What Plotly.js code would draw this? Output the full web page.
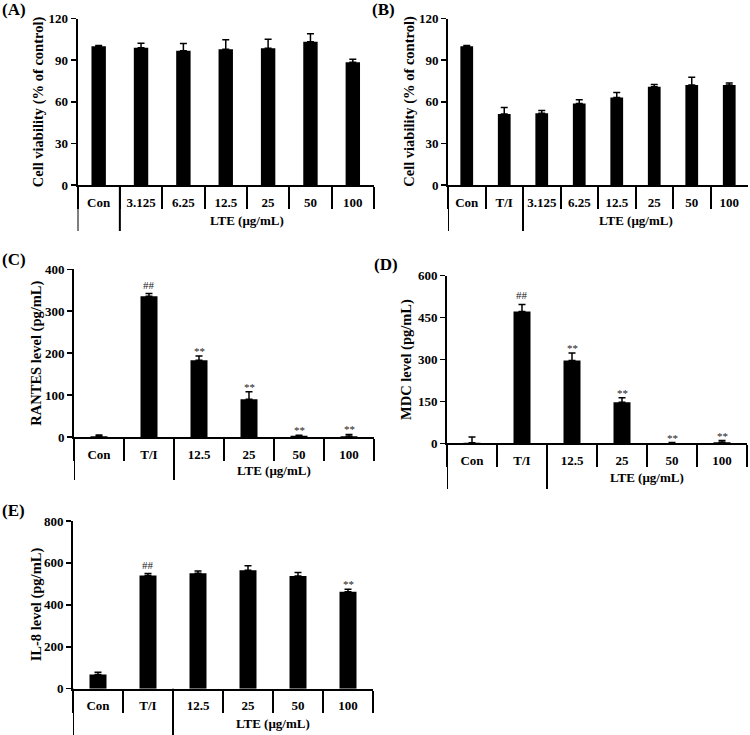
<!DOCTYPE html>
<html>
<head>
<meta charset="utf-8">
<script src="https://cdn.plot.ly/plotly-3.0.1.min.js"></script>
<style>
  html, body { margin: 0; padding: 0; background: #fff; }
  #chart { width: 750px; height: 735px; }
</style>
</head>
<body>
<div id="chart"></div>
<script>
// (A) cell viability with LTE alone
const catsA = ['Con', '3.125', '6.25', '12.5', '25', '50', '100'];
const valsA = [100, 99, 96.8, 97.8, 98.5, 103.2, 88.5];
const errsA = [0.6, 3.2, 5.1, 6.8, 6.6, 5.8, 2.2];

// (B) cell viability with T/I stimulation
const catsB = ['Con', 'T/I', '3.125', '6.25', '12.5', '25', '50', '100'];
const valsB = [100, 51.1, 51.8, 58.8, 63.1, 70.8, 72, 72];
const errsB = [0.5, 4.8, 1.9, 2.6, 3.6, 1.7, 5.6, 1.6];

// (C)-(E) cytokine levels
const catsCDE = ['Con', 'T/I', '12.5', '25', '50', '100'];

const valsC = [2, 336, 183, 90, 3, 2];
const errsC = [3, 6, 10, 18, 1, 4];
const sigC = ['', '##', '**', '**', '**', '**'];

const valsD = [2, 472, 296, 147, 1.5, 4];
const errsD = [21, 25, 27, 16, 1, 6];
const sigD = ['', '##', '**', '**', '**', '**'];

const valsE = [68, 540, 551, 565, 538, 463];
const errsE = [10, 9, 11, 21, 16, 12];
const sigE = ['', '##', '', '', '', '**'];

const groupLabel = 'LTE (μg/mL)';

// ---- page geometry (pixels) ----
const W = 750, H = 735;
const fx = v => v / W;
const fy = v => 1 - v / H;
const SERIF = 'Liberation Serif, Times New Roman, serif';

const panels = [
  { tag: '(A)', cats: catsA, vals: valsA, errs: errsA, sig: null,
    ymax: 120, dtick: 30, title: 'Cell viability (% of control)',
    box: [77.5, 374, 18.5, 185], groupStart: 1, lteY: 221, groupBottom: 231,
    titleX: 38.5, tagXY: [0, 9] },
  { tag: '(B)', cats: catsB, vals: valsB, errs: errsB, sig: null,
    ymax: 120, dtick: 30, title: 'Cell viability (% of control)',
    box: [448, 748, 18.5, 185], groupStart: 2, lteY: 221, groupBottom: 231,
    titleX: 410, tagXY: [370, 9] },
  { tag: '(C)', cats: catsCDE, vals: valsC, errs: errsC, sig: sigC,
    ymax: 400, dtick: 100, title: 'RANTES level (pg/mL)',
    box: [74, 374, 269.3, 437], groupStart: 2, lteY: 470, groupBottom: 480,
    titleX: 36.5, tagXY: [0, 259] },
  { tag: '(D)', cats: catsCDE, vals: valsD, errs: errsD, sig: sigD,
    ymax: 600, dtick: 150, title: 'MDC level (pg/mL)',
    box: [447, 747, 275.7, 443.3], groupStart: 2, lteY: 477, groupBottom: 489,
    titleX: 406.5, tagXY: [372, 264] },
  { tag: '(E)', cats: catsCDE, vals: valsE, errs: errsE, sig: sigE,
    ymax: 800, dtick: 200, title: 'IL-8 level (pg/mL)',
    box: [73, 373, 521, 688.7], groupStart: 2, lteY: 723, groupBottom: 735,
    titleX: 36.5, tagXY: [0, 510] }
];

const sigShift = { '##': 9, '**': 5 };

const data = [];
const layout = {
  width: W, height: H, autosize: false,
  margin: { l: 0, r: 0, t: 0, b: 0, pad: 0 },
  paper_bgcolor: '#fff', plot_bgcolor: '#fff',
  showlegend: false,
  font: { family: SERIF, color: '#000' },
  annotations: [], shapes: []
};

panels.forEach((p, i) => {
  const n = i === 0 ? '' : String(i + 1);
  const xa = 'x' + n, ya = 'y' + n;
  const [x0, x1, yTop, yBot] = p.box;
  const N = p.cats.length;

  data.push({
    type: 'bar', x: p.cats, y: p.vals, xaxis: xa, yaxis: ya,
    width: 0.34,
    marker: { color: '#000', line: { width: 0 } },
    error_y: { type: 'data', symmetric: false, array: p.errs,
               arrayminus: p.errs.map(() => 0),
               color: '#000', thickness: 1.5, width: 3.5 },
    hoverinfo: 'skip'
  });

  layout['xaxis' + n] = {
    domain: [fx(x0), fx(x1)], anchor: ya, type: 'category',
    range: [-0.5, N - 0.5], fixedrange: true,
    showline: true, linewidth: 2, linecolor: '#000',
    ticks: 'outside', tickson: 'boundaries', ticklen: 22, tickwidth: 2, tickcolor: '#000',
    tickfont: { family: SERIF, size: 13, color: '#000', weight: 'bold' },
    tickangle: 0, ticklabelstandoff: 4,
    showgrid: false, zeroline: false
  };
  layout['yaxis' + n] = {
    domain: [fy(yBot), fy(yTop)], anchor: xa,
    range: [0, p.ymax], tick0: 0, dtick: p.dtick, fixedrange: true,
    showline: true, linewidth: 2, linecolor: '#000',
    ticks: 'outside', ticklen: 5, tickwidth: 1.5, tickcolor: '#000',
    tickfont: { family: SERIF, size: 13, color: '#000', weight: 'bold' },
    showgrid: false, zeroline: false
  };

  // long dividers under the category row: control block and LTE block
  [-0.5, p.groupStart - 0.5].forEach(bx => {
    layout.shapes.push({
      type: 'line', xref: xa, yref: 'paper',
      x0: bx, x1: bx, y0: fy(yBot), y1: fy(p.groupBottom),
      line: { color: '#000', width: 2 }
    });
  });

  // group caption
  layout.annotations.push({
    xref: xa, yref: 'paper', x: (p.groupStart - 0.5 + N - 0.5) / 2, y: fy(p.lteY),
    text: groupLabel, showarrow: false, xanchor: 'center', yanchor: 'middle',
    font: { family: SERIF, size: 13, color: '#000', weight: 'bold' }
  });

  // y-axis title
  layout.annotations.push({
    xref: 'paper', yref: 'paper', x: fx(p.titleX), y: fy((yTop + yBot) / 2),
    text: p.title, textangle: -90, showarrow: false,
    xanchor: 'center', yanchor: 'middle',
    font: { family: SERIF, size: 14.5, color: '#000', weight: 'bold' }
  });

  // panel tag
  layout.annotations.push({
    xref: 'paper', yref: 'paper', x: fx(p.tagXY[0]), y: fy(p.tagXY[1]),
    text: p.tag, showarrow: false, xanchor: 'left', yanchor: 'middle',
    font: { family: SERIF, size: 17, color: '#000', weight: 'bold' }
  });

  // significance marks (x given as category index)
  if (p.sig) {
    p.sig.forEach((s, k) => {
      if (!s) return;
      layout.annotations.push({
        xref: xa, yref: ya, x: k, y: p.vals[k] + p.errs[k],
        text: s, showarrow: false, xanchor: 'center', yanchor: 'middle',
        yshift: sigShift[s],
        font: { family: SERIF, size: 11, color: '#222' }
      });
    });
  }
});

Plotly.newPlot('chart', data, layout, { displayModeBar: false, staticPlot: true });
</script>
</body>
</html>
